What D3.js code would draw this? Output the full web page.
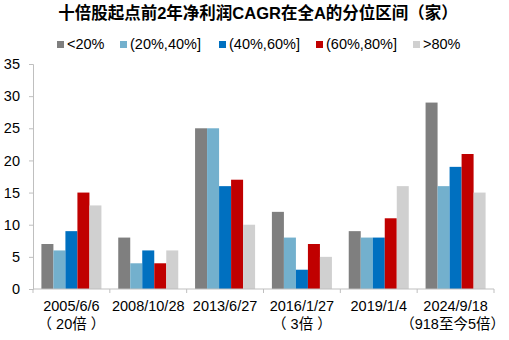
<!DOCTYPE html>
<html><head><meta charset="utf-8">
<script src="https://cdn.jsdelivr.net/npm/d3@7"></script>
<style>body{margin:0;background:#fff}svg{display:block}text{font-family:"Liberation Sans",Arial,"Noto Sans CJK SC",sans-serif;fill:#000}</style>
</head><body><svg id="c" width="509" height="340"></svg>
<script>
const title = "十倍股起点前2年净利润CAGR在全A的分位区间（家）";
const categories = ["2005/6/6", "2008/10/28", "2013/6/27", "2016/1/27", "2019/1/4", "2024/9/18"];
const subLabels = ["（ 20倍 ）", "", "", "（ 3倍 ）", "", "（918至今5倍）"];
const seriesNames = ["<20%", "(20%,40%]", "(40%,60%]", "(60%,80%]", ">80%"];
const seriesColors = ["#7f7f7f", "#73b0cd", "#0070c0", "#c00000", "#d0d0d0"];
const s1 = [7, 8, 25, 12, 9, 29];
const s2 = [6, 4, 25, 8, 8, 16];
const s3 = [9, 6, 16, 3, 8, 19];
const s4 = [15, 4, 17, 7, 11, 21];
const s5 = [13, 6, 10, 5, 16, 15];
const yTicks = [0, 5, 10, 15, 20, 25, 30, 35];

const series = [s1, s2, s3, s4, s5];
const svg = d3.select("#c");
const m = {l: 33, r: 494, t: 64, b: 289};

const x0 = d3.scaleBand().domain(categories).range([m.l, m.r]).padding(0);
const x1 = d3.scaleBand().domain(seriesNames).range([0, x0.bandwidth()]).paddingInner(0).paddingOuter(0.7);
const y = d3.scaleLinear().domain([0, 35]).range([m.b, m.t]);

// title
svg.append("text").attr("x", 258).attr("y", 19).attr("text-anchor", "middle")
  .style("font-size", "16.5px").style("font-weight", "bold").text(title);

// legend
const legX = [57, 120, 219, 316, 413];
const leg = svg.append("g");
seriesNames.forEach((n, i) => {
  leg.append("rect").attr("x", legX[i]).attr("y", 41).attr("width", 7).attr("height", 7).attr("fill", seriesColors[i]);
  leg.append("text").attr("x", legX[i] + 10).attr("y", 48.5).style("font-size", "14.5px").text(n);
});

// bars
const g = svg.append("g");
categories.forEach((c, ci) => {
  series.forEach((s, si) => {
    g.append("rect")
      .attr("x", x0(c) + x1(seriesNames[si]))
      .attr("y", y(s[ci]))
      .attr("width", x1.bandwidth())
      .attr("height", y(0) - y(s[ci]))
      .attr("fill", seriesColors[si]);
  });
});

// y axis
const yAxis = svg.append("g").attr("transform", `translate(${m.l},0)`)
  .call(d3.axisLeft(y).tickValues(yTicks).tickSize(4).tickPadding(9).tickFormat(d3.format("d")));
yAxis.select(".domain").attr("stroke", "#bfbfbf");
yAxis.selectAll(".tick line").attr("stroke", "#bfbfbf");
yAxis.selectAll("text").style("font-size", "14.5px").style("font-family", '"Liberation Sans",Arial,sans-serif').attr("fill", "#000");

// x axis
const xg = svg.append("g");
xg.append("line").attr("x1", m.l).attr("x2", m.r).attr("y1", m.b).attr("y2", m.b).attr("stroke", "#bfbfbf");
const bounds = categories.map(c => x0(c)).concat([x0(categories[categories.length - 1]) + x0.bandwidth()]);
bounds.forEach(b => xg.append("line").attr("x1", b).attr("x2", b).attr("y1", m.b).attr("y2", m.b + 4).attr("stroke", "#bfbfbf"));
categories.forEach((c, i) => {
  const cx = x0(c) + x0.bandwidth() / 2;
  xg.append("text").attr("x", cx).attr("y", 311).attr("text-anchor", "middle").style("font-size", "14.5px").text(c);
  if (subLabels[i]) {
    const last = i === categories.length - 1;
    xg.append("text").attr("x", last ? cx - 3 : cx).attr("y", 329).attr("text-anchor", "middle")
      .style("font-size", "14.5px").text(subLabels[i]);
  }
});
</script></body></html>
